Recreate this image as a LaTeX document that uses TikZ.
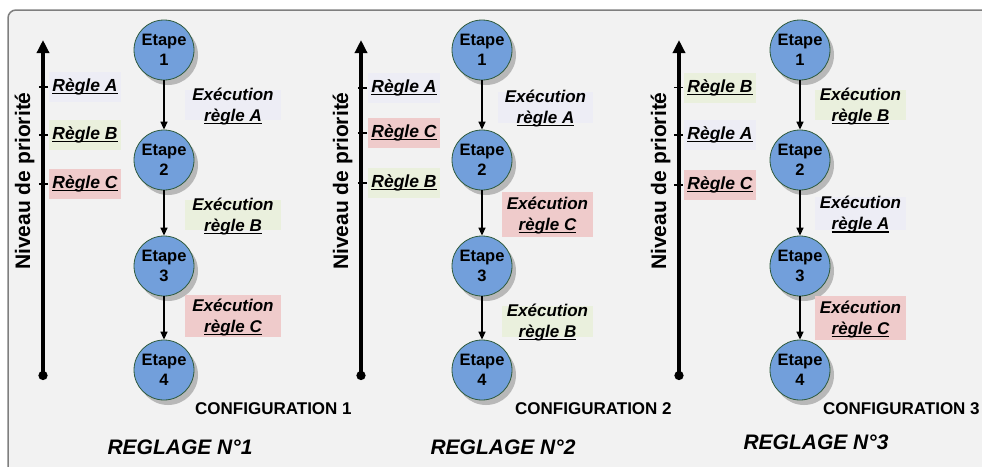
\documentclass[tikz,border=0pt]{standalone}
\usepackage{fontspec}
\setmainfont{Liberation Sans}
\usetikzlibrary{arrows.meta,shadows}
\definecolor{bgc}{HTML}{F2F2F2}
\definecolor{framec}{HTML}{7F7F7F}
\definecolor{stepfill}{HTML}{729FDB}
\definecolor{stepline}{HTML}{2E5A3C}
\definecolor{colA}{HTML}{EDEDF5}
\definecolor{colB}{HTML}{EAF0DD}
\definecolor{colC}{HTML}{EFCBCB}
\newsavebox\ulsavebox
\newcommand\ulword[1]{\sbox\ulsavebox{#1}\rlap{\rule[-2.8pt]{\wd\ulsavebox}{1.3pt}}\usebox\ulsavebox}
\tikzset{
  etape/.style={circle, draw=stepline, line width=0.8pt, fill=stepfill, minimum size=60pt, inner sep=0pt,
    font=\fontsize{16.5}{20}\selectfont\bfseries, align=center,
    drop shadow={shadow xshift=4pt, shadow yshift=-5pt, fill=black!30, opacity=0.9}},
  flow/.style={line width=1.4pt, -{Triangle[width=7pt,length=8pt]}},
  axisline/.style={line width=3.5pt, {Circle[length=9pt]}-{Triangle[width=12pt,length=13pt]}},
  tickline/.style={line width=1.8pt},
  rulebox/.style={minimum width=72pt, minimum height=30pt, inner sep=0pt,
    font=\fontsize{17.5}{20}\selectfont\bfseries\itshape},
  execbg/.style={inner sep=0pt},
  exectext/.style={inner sep=0pt, align=center, yshift=-1.5pt, font=\fontsize{17}{21}\selectfont\bfseries\itshape},
  vlabel/.style={rotate=90, anchor=base, inner sep=0pt, font=\fontsize{21}{24}\selectfont\bfseries},
  config/.style={anchor=west, inner sep=0pt, font=\fontsize{17}{20}\selectfont\bfseries},
  reglage/.style={inner sep=0pt, font=\fontsize{21}{24}\selectfont\bfseries\itshape},
}
\begin{document}
\begin{tikzpicture}[x=1pt,y=-1pt]
\useasboundingbox (0,0) rectangle (982,466);
\clip (0,0) rectangle (982,466);
\draw[framec, line width=1.5pt, fill=bgc, rounded corners=8pt] (8,10) rectangle (1000,490);

% ================= Panel 1 =================
\coordinate (p1top) at (43,40);
\coordinate (p1bot) at (43,380);
\draw[axisline] (p1bot) -- (p1top);
\node[vlabel] (p1v) at (30,181) {Niveau de priorité};
\node[rulebox, fill=colA] (p1r1) at (85,87) {\ulword{Règle A}};
\node[rulebox, fill=colB] (p1r2) at (85,135) {\ulword{Règle B}};
\node[rulebox, fill=colC] (p1r3) at (85,184) {\ulword{Règle C}};
\foreach \i in {1,2,3}{\draw[tickline] ([xshift=-10pt]p1r\i.west) -- ([xshift=-1pt]p1r\i.west);}
\node[etape] (p1s1) at (164,50) {Etape\\1};
\node[etape] (p1s2) at (164,160) {Etape\\2};
\node[etape] (p1s3) at (164,266) {Etape\\3};
\node[etape] (p1s4) at (164,370) {Etape\\4};
\draw[flow] (p1s1) -- (p1s2);
\draw[flow] (p1s2) -- (p1s3);
\draw[flow] (p1s3) -- (p1s4);
\node[execbg, fill=colA, minimum width=96pt, minimum height=30pt] (p1e1) at (233,105) {};
\node[exectext] at (p1e1) {Exécution\\\ulword{règle A}};
\node[execbg, fill=colB, minimum width=96pt, minimum height=30pt] (p1e2) at (233,215) {};
\node[exectext] at (p1e2) {Exécution\\\ulword{règle B}};
\node[execbg, fill=colC, minimum width=96pt, minimum height=42pt] (p1e3) at (233,316) {};
\node[exectext] at (p1e3) {Exécution\\\ulword{règle C}};
\node[config] (p1c) at (195,409) {CONFIGURATION 1};
\node[reglage] (p1g) at (180,447) {REGLAGE N°1};

% ================= Panel 2 =================
\coordinate (p2top) at (361,40);
\coordinate (p2bot) at (361,380);
\draw[axisline] (p2bot) -- (p2top);
\node[vlabel] (p2v) at (348,181) {Niveau de priorité};
\node[rulebox, fill=colA] (p2r1) at (404,88) {\ulword{Règle A}};
\node[rulebox, fill=colC] (p2r2) at (404,133) {\ulword{Règle C}};
\node[rulebox, fill=colB] (p2r3) at (404,183) {\ulword{Règle B}};
\foreach \i in {1,2,3}{\draw[tickline] ([xshift=-10pt]p2r\i.west) -- ([xshift=-1pt]p2r\i.west);}
\node[etape] (p2s1) at (482,50) {Etape\\1};
\node[etape] (p2s2) at (482,160) {Etape\\2};
\node[etape] (p2s3) at (482,266) {Etape\\3};
\node[etape] (p2s4) at (482,370) {Etape\\4};
\draw[flow] (p2s1) -- (p2s2);
\draw[flow] (p2s2) -- (p2s3);
\draw[flow] (p2s3) -- (p2s4);
\node[execbg, fill=colA, minimum width=95pt, minimum height=31pt] (p2e1) at (545.5,107) {};
\node[exectext] at (p2e1) {Exécution\\\ulword{règle A}};
\node[execbg, fill=colC, minimum width=91pt, minimum height=45pt] (p2e2) at (547.5,214) {};
\node[exectext] at (p2e2) {Exécution\\\ulword{règle C}};
\node[execbg, fill=colB, minimum width=91pt, minimum height=31pt] (p2e3) at (547.5,321) {};
\node[exectext] at (p2e3) {Exécution\\\ulword{règle B}};
\node[config] (p2c) at (515,409) {CONFIGURATION 2};
\node[reglage] (p2g) at (503,447) {REGLAGE N°2};

% ================= Panel 3 =================
\coordinate (p3top) at (679,40);
\coordinate (p3bot) at (679,380);
\draw[axisline] (p3bot) -- (p3top);
\node[vlabel] (p3v) at (666,181) {Niveau de priorité};
\node[rulebox, fill=colB] (p3r1) at (720,87.5) {\ulword{Règle B}};
\node[rulebox, fill=colA] (p3r2) at (720,135) {\ulword{Règle A}};
\node[rulebox, fill=colC] (p3r3) at (720,185) {\ulword{Règle C}};
\foreach \i in {1,2,3}{\draw[tickline] ([xshift=-10pt]p3r\i.west) -- ([xshift=-1pt]p3r\i.west);}
\node[etape] (p3s1) at (800,50) {Etape\\1};
\node[etape] (p3s2) at (800,160) {Etape\\2};
\node[etape] (p3s3) at (800,266) {Etape\\3};
\node[etape] (p3s4) at (800,370) {Etape\\4};
\draw[flow] (p3s1) -- (p3s2);
\draw[flow] (p3s2) -- (p3s3);
\draw[flow] (p3s3) -- (p3s4);
\node[execbg, fill=colB, minimum width=91pt, minimum height=30pt] (p3e1) at (860.5,105) {};
\node[exectext] at (p3e1) {Exécution\\\ulword{règle B}};
\node[execbg, fill=colA, minimum width=91pt, minimum height=33pt] (p3e2) at (860.5,213.5) {};
\node[exectext] at (p3e2) {Exécution\\\ulword{règle A}};
\node[execbg, fill=colC, minimum width=91pt, minimum height=44pt] (p3e3) at (860.5,318) {};
\node[exectext] at (p3e3) {Exécution\\\ulword{règle C}};
\node[config] (p3c) at (823,409) {CONFIGURATION 3};
\node[reglage] (p3g) at (816,442) {REGLAGE N°3};
\end{tikzpicture}
\end{document}
